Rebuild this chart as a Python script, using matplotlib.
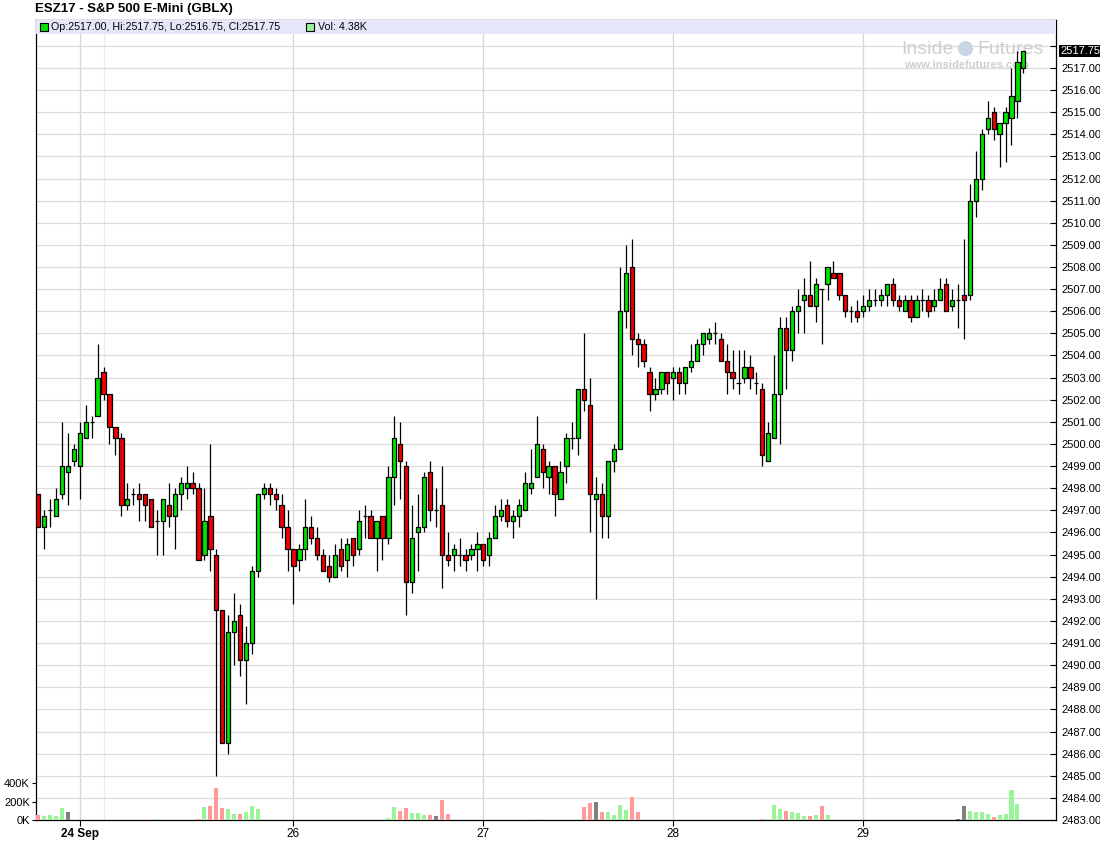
import matplotlib
matplotlib.use("Agg")
import matplotlib.pyplot as plt
import numpy as np
from matplotlib.patches import Rectangle

plt.rcParams['font.family'] = ['Liberation Sans', 'DejaVu Sans']

# OHLC values, one entry per candle
opens = [2497.75, 2496.25, 2497, 2496.75, 2497.75, 2498.75, 2499.25, 2499, 2500.25, 2501,
         2501.25, 2503.25, 2502.25, 2500.75, 2500.25, 2497.25, 2497.75, 2497.75, 2497.75, 2497.5,
         2496.5, 2496.5, 2497.25, 2496.75, 2497.75, 2498, 2498.25, 2498, 2495, 2496.75,
         2495, 2492.5, 2486.5, 2491.5, 2492.25, 2490.25, 2491, 2494.25, 2497.75, 2498,
         2497.75, 2497.25, 2496.25, 2495.25, 2494.75, 2495.25, 2496.25, 2495.75, 2495, 2494.5,
         2494, 2495.25, 2494.75, 2495.75, 2495.25, 2496.75, 2496.75, 2495.75, 2496.75, 2495.75,
         2498.5, 2500, 2499, 2493.75, 2496, 2496.25, 2498.75, 2497, 2497.25, 2495,
         2495, 2495, 2495, 2495, 2495.25, 2495.5, 2495, 2495.75, 2496.75, 2497.25,
         2496.5, 2496.75, 2497, 2498, 2498.5, 2499.75, 2498.5, 2499, 2497.5, 2499,
         2500.25, 2500.25, 2502.5, 2501.75, 2497.5, 2497.75, 2496.75, 2499.25, 2499.75, 2506,
         2508, 2504.75, 2504.5, 2503.25, 2502.25, 2502.5, 2503.25, 2503, 2503.25, 2502.75,
         2503.5, 2503.75, 2504.5, 2504.75, 2505, 2504.75, 2503.75, 2503.25, 2502.75, 2503,
         2503.5, 2502.75, 2502.5, 2499.25, 2500.25, 2502.25, 2505.25, 2504.25, 2506, 2506.5,
         2506.75, 2506.25, 2507, 2507.25, 2507.75, 2507.75, 2506.75, 2506, 2506, 2506,
         2506.25, 2506.5, 2506.5, 2506.75, 2507.25, 2506.5, 2506, 2506.5, 2505.75, 2506.5,
         2506.5, 2506.25, 2506.5, 2507.25, 2506.25, 2506.5, 2506.75, 2506.75, 2511, 2512,
         2514.25, 2515, 2514, 2514.5, 2514.75, 2515.5, 2517]
highs = [2497.75, 2497, 2497.5, 2498, 2501, 2500.5, 2500, 2501, 2501.75, 2501.25,
         2504.5, 2503.5, 2502.25, 2500.75, 2500.5, 2498.25, 2498, 2498.25, 2497.75, 2497.5,
         2497, 2497.5, 2498.25, 2498, 2498.5, 2499, 2498.75, 2498.25, 2498, 2500,
         2495.25, 2492.5, 2492.25, 2493.25, 2492.75, 2491.75, 2494.5, 2497.75, 2498.25, 2498.25,
         2498, 2497.75, 2497, 2495.25, 2495.5, 2497.5, 2496.75, 2496.25, 2495.25, 2495,
         2495.5, 2495.75, 2495.75, 2495.75, 2497, 2497.25, 2497, 2496.5, 2496.75, 2499,
         2501.25, 2501, 2499.25, 2497.25, 2497.75, 2498.75, 2499.25, 2498, 2499, 2496,
         2495.5, 2495.75, 2495.25, 2495.5, 2496, 2495.5, 2496, 2497.25, 2497.5, 2497.5,
         2497, 2497.5, 2498.75, 2499.75, 2501.25, 2500, 2499.25, 2499, 2499.25, 2500.5,
         2501, 2502.5, 2505, 2503, 2498.5, 2498.25, 2499.25, 2500, 2508, 2509,
         2509.25, 2505, 2504.75, 2503.5, 2503, 2503.25, 2503.25, 2503.5, 2503.5, 2503.5,
         2504.5, 2504.75, 2505, 2505.25, 2505.5, 2505, 2504.5, 2504.25, 2504.25, 2504.25,
         2504, 2503.25, 2502.75, 2501, 2504, 2505.75, 2505.75, 2506.25, 2507, 2507.5,
         2508.25, 2507.5, 2507, 2508, 2508.25, 2507.75, 2506.75, 2506.25, 2506.5, 2506.75,
         2507, 2507, 2507, 2507.25, 2507.5, 2506.75, 2506.75, 2506.75, 2506.75, 2507,
         2506.75, 2507, 2507.5, 2507.5, 2507, 2507.25, 2509.25, 2511.75, 2513.25, 2514.25,
         2515.5, 2515.25, 2514.5, 2515.25, 2517, 2517.75, 2517.75]
lows = [2496.25, 2495.25, 2496.25, 2496.75, 2497.5, 2497.25, 2499, 2497.5, 2500.25, 2500.25,
        2501.25, 2502, 2500, 2499.5, 2496.75, 2497, 2497.25, 2496.5, 2496.5, 2496.25,
        2495, 2495, 2496.25, 2495.25, 2497, 2497.5, 2497.75, 2494.75, 2494.75, 2494.25,
        2485, 2486.5, 2486, 2490, 2489.5, 2488.25, 2490.5, 2494, 2497.5, 2497.25,
        2497, 2495.75, 2494.25, 2492.75, 2494.25, 2494.75, 2495.5, 2494.75, 2494.25, 2493.75,
        2494, 2494.25, 2494, 2494.5, 2495, 2495.75, 2495.75, 2494.25, 2494.75, 2495.5,
        2497.25, 2497.5, 2492.25, 2493.25, 2494.25, 2496, 2496.5, 2496.25, 2493.5, 2494.5,
        2494.25, 2494.5, 2494.25, 2494.75, 2494.25, 2494.5, 2494.5, 2495.75, 2496.5, 2496.25,
        2495.75, 2496.25, 2497, 2497.75, 2498.5, 2498, 2497.75, 2496.75, 2497.5, 2498.25,
        2499.75, 2499.5, 2501.5, 2496, 2493, 2495.75, 2495.75, 2498.75, 2499.75, 2505.25,
        2504, 2503.5, 2503.5, 2501.5, 2502, 2502.25, 2502.25, 2502, 2502.25, 2502.25,
        2503.25, 2503.75, 2504, 2504.5, 2504.5, 2503.75, 2502.25, 2502.5, 2502.25, 2502.75,
        2502.5, 2502.25, 2499, 2499.25, 2500.25, 2500, 2502.5, 2503.75, 2505, 2505,
        2506.25, 2505.5, 2504.5, 2506.5, 2507.5, 2506.5, 2505.75, 2505.5, 2505.5, 2505.75,
        2506, 2506.25, 2506.25, 2506.25, 2506.25, 2506, 2506, 2505.5, 2505.75, 2506,
        2505.75, 2506, 2506.5, 2506, 2506, 2505.25, 2504.75, 2506.5, 2510.25, 2511.5,
        2514, 2513.75, 2512.5, 2512.75, 2513.5, 2514.75, 2516.75]
closes = [2496.25, 2496.75, 2497, 2497.5, 2499, 2499, 2499.75, 2500.5, 2501, 2501,
          2503, 2502.25, 2500.75, 2500.25, 2497.25, 2497.5, 2497.75, 2497.5, 2497.25, 2496.25,
          2496.5, 2497.5, 2496.75, 2497.75, 2498.25, 2498.25, 2498, 2494.75, 2496.5, 2495.25,
          2492.5, 2486.5, 2491.5, 2492, 2490.25, 2491, 2494.25, 2497.75, 2498, 2497.75,
          2497.5, 2496.25, 2495.25, 2494.5, 2495.25, 2496.25, 2495.75, 2495, 2494.25, 2494,
          2495, 2494.5, 2495.5, 2495, 2496.5, 2496.75, 2495.75, 2496.5, 2495.75, 2498.5,
          2500.25, 2499.25, 2493.75, 2495.75, 2496.25, 2498.5, 2497, 2497, 2495, 2494.75,
          2495.25, 2495, 2494.75, 2495.25, 2495.5, 2494.75, 2495.75, 2496.75, 2497, 2496.5,
          2496.75, 2497.25, 2498.25, 2498.25, 2500, 2498.75, 2499, 2497.75, 2498.75, 2500.25,
          2500.25, 2502.5, 2502, 2497.75, 2497.75, 2496.75, 2499.25, 2499.75, 2506, 2507.75,
          2504.75, 2504.5, 2503.75, 2502.25, 2502.5, 2503.25, 2502.75, 2503.25, 2502.75, 2503.5,
          2503.75, 2504.5, 2505, 2505, 2505, 2503.75, 2503.25, 2503, 2502.75, 2503.5,
          2503, 2502.75, 2499.5, 2500.5, 2502.25, 2505.25, 2504.25, 2506, 2506.25, 2506.75,
          2506.25, 2507.25, 2507, 2508, 2507.5, 2506.75, 2506, 2506, 2505.75, 2506.25,
          2506.5, 2506.5, 2506.75, 2507.25, 2506.5, 2506.25, 2506.5, 2505.75, 2506.5, 2506.5,
          2506, 2506.5, 2507, 2506, 2506.5, 2506.5, 2506.5, 2511, 2512, 2514,
          2514.75, 2514.25, 2514.5, 2515, 2515.75, 2517.25, 2517.75]
# volume in thousands of contracts
volumes_k = [55, 44, 55, 44, 131, 87, 0, 0, 0, 0,
             5, 0, 5, 0, 5, 0, 0, 0, 5, 5,
             8, 5, 5, 5, 5, 5, 5, 10, 142, 153,
             349, 131, 120, 65, 65, 87, 153, 120, 0, 0,
             0, 0, 5, 5, 0, 5, 0, 0, 5, 0,
             5, 5, 5, 5, 5, 5, 5, 5, 5, 22,
             142, 98, 131, 76, 76, 55, 55, 44, 218, 65,
             0, 0, 0, 0, 5, 0, 0, 0, 0, 0,
             0, 0, 5, 5, 12, 5, 5, 5, 5, 5,
             5, 12, 139, 182, 193, 86, 86, 54, 161, 107,
             246, 86, 0, 0, 0, 0, 0, 0, 5, 0,
             0, 0, 0, 0, 5, 5, 5, 5, 5, 5,
             5, 5, 10, 8, 161, 118, 96, 86, 75, 43,
             43, 54, 150, 54, 0, 0, 0, 0, 5, 0,
             5, 0, 0, 0, 0, 0, 0, 5, 5, 5,
             5, 5, 5, 5, 5, 10, 150, 96, 86, 86,
             64, 32, 54, 64, 332, 171, 4.38]

day_ticks = [7, 43, 75, 107, 139]
day_labels = ['24 Sep', '26', '27', '28', '29']
session_line = 11

title = 'ESZ17 - S&P 500 E-Mini (GBLX)'

W, H = 1100, 861
fig = plt.figure(figsize=(W / 100, H / 100), dpi=100)
ax_l, ax_r, ax_t, ax_b = 35.5, 1056, 20, 820
ax = fig.add_axes([ax_l / W, 1 - ax_b / H, (ax_r - ax_l) / W, (ax_b - ax_t) / H])


def px(x, y):
    # pixel position -> axes fraction
    return (x - ax_l) / (ax_r - ax_l), (ax_b - y) / (ax_b - ax_t)


x = np.arange(len(opens))
o = np.array(opens)
h = np.array(highs)
lo = np.array(lows)
c = np.array(closes)

up_col, dn_col = '#00e400', '#f00000'
body_w = 0.72

# price panel
ax.set_xlim(-0.47, 171.5)
ax.set_ylim(2483, 2483 + (ax_b - ax_t) / 22.12)
ax.set_axisbelow(True)
ax.vlines(x, lo, h, color='black', lw=0.9, zorder=3)
diff = c - o
cols = np.where(diff > 0, up_col, dn_col)
mask = diff != 0
ax.bar(x[mask], np.abs(diff[mask]), bottom=np.minimum(o, c)[mask], width=body_w,
       color=cols[mask], edgecolor='black', linewidth=0.9, zorder=4)
ax.hlines(o[~mask], x[~mask] - body_w / 2, x[~mask] + body_w / 2, color='black', lw=0.9, zorder=4)

# volume panel on the left scale (twinx resets the host ticks, so set those after)
ax_v = ax.twinx()
prev = np.concatenate([[o[0]], c[:-1]])
vcols = np.where(c > prev, '#9af59a', np.where(c < prev, '#ff9a9a', '#808080'))
ax_v.bar(x, np.array(volumes_k) * 1000, width=0.68, color=vcols, zorder=2)
ax_v.set_ylim(0, (ax_b - ax_t) / 18.3 * 200000)
ax_v.yaxis.tick_left()
ax_v.set_yticks([0, 200000, 400000])
ax_v.set_yticklabels(['0K', '200K', '400K'])
ax_v.tick_params(axis='y', direction='out', length=3, pad=1, labelsize=8, width=0.8)
for s in ax_v.spines.values():
    s.set_visible(False)

ax.yaxis.tick_right()
ax.set_yticks(np.arange(2483, 2519))
ax.yaxis.set_major_formatter(lambda v, p: '' if v > 2517.5 else f'{v:.2f}')
ax.tick_params(axis='y', which='both', left=False, labelleft=False, right=True, labelright=True,
               direction='in', length=4, pad=4, labelsize=8, width=0.8)
ax.grid(axis='y', color='#dcdcdc', lw=0.9)

ax.set_xticks(day_ticks)
ax.set_xticklabels(day_labels)
ax.get_xticklabels()[0].set_fontweight('bold')
ax.tick_params(axis='x', direction='out', length=4, pad=2, labelsize=8.5, width=0.8)
ax.grid(axis='x', color='#d6d6d6', lw=0.9)
ax.axvline(session_line, color='#ebebeb', lw=0.9, zorder=0.5)
for s in ax.spines.values():
    s.set_linewidth(0.9)

# header band with OHLC readout
ax.add_patch(Rectangle(px(ax_l, 34.5), 1, 1 - px(0, 34.5)[1], transform=ax.transAxes,
                       facecolor='#e6e6fa', edgecolor='none', zorder=6))
ax.plot(*px(43.5, 27.5), marker='s', ms=5.5, mfc=up_col, mec='black', mew=0.8,
        transform=ax.transAxes, clip_on=False, zorder=7)
ax.text(*px(51, 27.5), f'Op:{o[-1]:.2f}, Hi:{h[-1]:.2f}, Lo:{lo[-1]:.2f}, Cl:{c[-1]:.2f}',
        transform=ax.transAxes, fontsize=7.7, va='center', ha='left', zorder=7)
ax.plot(*px(309.5, 27.5), marker='s', ms=5.5, mfc='#9af59a', mec='black', mew=0.8,
        transform=ax.transAxes, clip_on=False, zorder=7)
ax.text(*px(318, 27.5), f'Vol: {volumes_k[-1]:.2f}K', transform=ax.transAxes,
        fontsize=7.7, va='center', ha='left', zorder=7)

# watermark
wm = '#cfcfcf'
ax.text(*px(901, 50), 'Inside', transform=ax.transAxes, fontsize=14, color=wm,
        va='center', ha='left', zorder=1)
ax.plot(*px(965, 48), marker='o', ms=11, mfc='#c9d6e3', mec='none',
        transform=ax.transAxes, zorder=1)
ax.text(*px(977, 50), 'Futures', transform=ax.transAxes, fontsize=14, color=wm,
        va='center', ha='left', zorder=1)
ax.text(*px(904, 65), 'www.insidefutures.com', transform=ax.transAxes, fontsize=8,
        color=wm, va='center', ha='left', fontweight='bold', zorder=1)

# last price tag
ax.annotate(f'{c[-1]:.2f}', xy=(1, c[-1]), xycoords=('axes fraction', 'data'),
            xytext=(3, 0), textcoords='offset points', fontsize=8, color='white',
            va='center', ha='left', annotation_clip=False,
            bbox=dict(boxstyle='square,pad=0.1', facecolor='black', edgecolor='none'))

fig.text(35 / W, 1 - 9 / H, title, fontsize=9.5, fontweight='bold', va='center', ha='left')

fig.savefig('out.png', dpi=100)
